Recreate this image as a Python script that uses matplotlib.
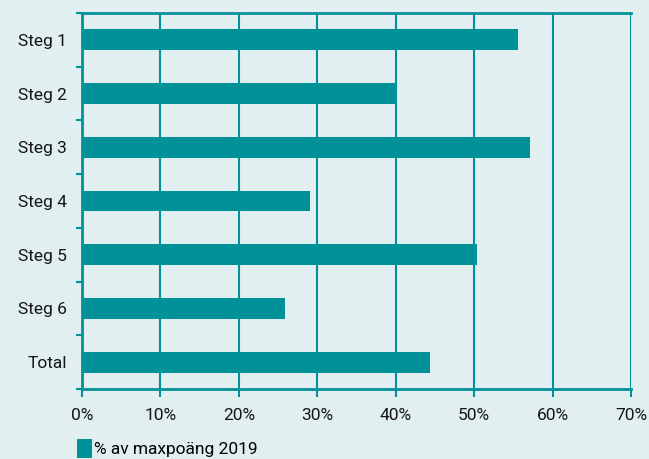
import matplotlib.pyplot as plt
from matplotlib.patches import Patch

categories = ['Steg 1', 'Steg 2', 'Steg 3', 'Steg 4', 'Steg 5', 'Steg 6', 'Total']
values = [55.6, 40.0, 57.1, 29.1, 50.4, 25.9, 44.4]
xticks = [0, 10, 20, 30, 40, 50, 60, 70]
series_name = '% av maxpoäng 2019'

bg = '#e1eff0'
teal = '#009298'

plt.rcParams['font.family'] = ['Roboto', 'DejaVu Sans']

fig = plt.figure(figsize=(6.49, 4.59), dpi=100, facecolor=bg)
ax = fig.add_axes([82 / 649, 1 - 389 / 459, (631 - 82) / 649, (389 - 13) / 459])
ax.set_facecolor(bg)

pos = list(range(len(categories)))
ax.barh(pos, values, height=0.39, color=teal, zorder=3)
ax.set_ylim(len(categories) - 0.5, -0.5)
ax.set_xlim(0, 70)

# vertical grid lines
ax.set_xticks(xticks)
ax.set_xticklabels([f'{t}%' for t in xticks])
ax.grid(axis='x', color=teal, linewidth=1.5, zorder=1)

ax.set_yticks(pos)
ax.set_yticklabels(categories)
ax.set_yticks([p + 0.5 for p in [-1] + pos], minor=True)
ax.tick_params(axis='y', which='major', length=0, pad=11, labelsize=12.5, labelcolor='#151515')
ax.tick_params(axis='y', which='minor', length=4, width=1.5, color=teal)
ax.tick_params(axis='x', length=6, width=1.5, color=teal, pad=8, labelsize=12.5, labelcolor='#151515')

for side in ['left', 'bottom', 'top']:
    ax.spines[side].set_color(teal)
    ax.spines[side].set_linewidth(2)
ax.spines['right'].set_visible(False)

handle = Patch(facecolor=teal, edgecolor='none')
fig.legend([handle], [series_name], loc='lower left', bbox_to_anchor=(70 / 649, -0.012),
           frameon=False, fontsize=12.5, handlelength=0.85, handleheight=1.3,
           handletextpad=0.15, borderaxespad=0.0)

fig.savefig('out.png', dpi=100, facecolor=bg)
